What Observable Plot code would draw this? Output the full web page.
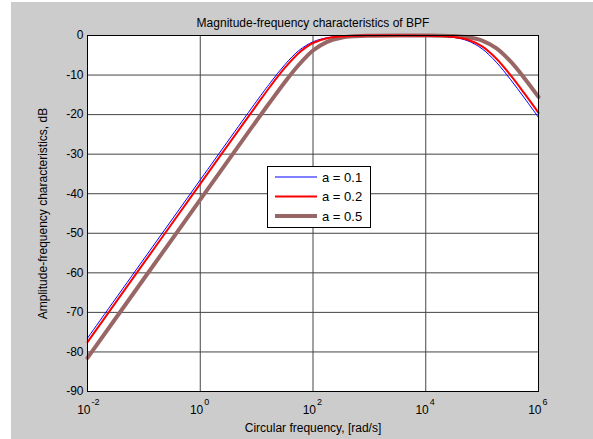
<!DOCTYPE html>
<html>
<head>
<meta charset="utf-8">
<script src="https://cdn.jsdelivr.net/npm/d3@7"></script>
<script src="https://cdn.jsdelivr.net/npm/@observablehq/plot@0.6"></script>
<style>
  html, body { margin: 0; padding: 0; background: #ffffff; }
  #wrap { position: relative; width: 593px; height: 439px; overflow: hidden; background: #ffffff; }
  #chart { position: absolute; left: 11px; top: 2px; }
  #legend { position: absolute; left: 267px; top: 166px; width: 102px; height: 60px;
            border: 1px solid #000; background: #fff; }
  #legend svg { display: block; }
</style>
</head>
<body>
<div id="wrap">
  <div id="chart"></div>
  <div id="legend"></div>
</div>
<script>
// ---- data ----
const frequencies = [0.01, 0.1, 1, 10, 17.8, 31.6, 56.2, 100, 178, 316, 562, 1000, 3162,
  10000, 17783, 31623, 56234, 100000, 177828, 316228, 562341, 1000000];
const gainA01 = [-76.5, -56.5, -36.5, -16.6, -11.8, -7.4, -3.8, -1.6, -0.57, -0.19, -0.06, -0.02, 0,
  -0.05, -0.16, -0.48, -1.37, -3.37, -6.73, -11.06, -15.8, -20.7];
const gainA02 = [-77.5, -57.5, -37.5, -17.6, -12.7, -8.2, -4.4, -1.9, -0.7, -0.24, -0.08, -0.02, 0,
  -0.04, -0.12, -0.37, -1.08, -2.77, -5.82, -9.96, -14.65, -19.55];
const gainA05 = [-81.5, -61.5, -41.5, -21.5, -16.6, -11.8, -7.4, -3.8, -1.6, -0.57, -0.19, -0.06, 0,
  -0.02, -0.05, -0.15, -0.45, -1.29, -3.21, -6.5, -10.78, -15.52];
const seriesNames = ["a = 0.1", "a = 0.2", "a = 0.5"];
const seriesColors = ["#0000ff", "#ff0000", "#996666"];
const seriesWidths = [1, 2, 4];
const xTicks = [0.01, 1, 100, 10000, 1000000];
const xTickExponents = ["-2", "0", "2", "4", "6"];
const yTicks = [0, -10, -20, -30, -40, -50, -60, -70, -80, -90];
const titleText = "Magnitude-frequency characteristics of BPF";
const xLabel = "Circular frequency, [rad/s]";
const yLabel = "Amplitude-frequency characteristics, dB";

const allGains = [gainA01, gainA02, gainA05];
const rows = (i) => frequencies.map((f, j) => ({f, g: allGains[i][j]}));
const drawOrder = [2, 0, 1];

const font = "'Liberation Sans', Arial, Helvetica, sans-serif";

const chart = Plot.plot({
  width: 582,
  height: 437,
  marginLeft: 76,
  marginRight: 55,
  marginTop: 33,
  marginBottom: 48,
  style: {background: "#cccccc", fontFamily: font, fontSize: "12px", color: "#000"},
  x: {type: "log", domain: [0.01, 1000000], axis: null},
  y: {domain: [-90, 0], axis: null},
  marks: [
    Plot.frame({fill: "#ffffff", stroke: "none"}),
    Plot.gridX(xTicks, {stroke: "#444", strokeOpacity: 1, strokeWidth: 1}),
    Plot.gridY(yTicks, {stroke: "#444", strokeOpacity: 1, strokeWidth: 1}),
    ...drawOrder.map(i => Plot.line(rows(i), {
      x: "f", y: "g", stroke: seriesColors[i], strokeWidth: seriesWidths[i], curve: "catmull-rom"
    })),
    Plot.frame({stroke: "#000", strokeWidth: 1}),
    Plot.axisY(yTicks, {tickSize: 0, tickPadding: 4, fontSize: 12, label: null, fill: "#000",
      tickFormat: d => String(d)}),
    Plot.text(xTicks, {x: d => d, text: () => "10", frameAnchor: "bottom", dy: 22, dx: 3,
      textAnchor: "end", lineAnchor: "bottom", fontSize: 12, fill: "#000"}),
    Plot.text(xTicks, {x: d => d, text: (d, i) => xTickExponents[i], frameAnchor: "bottom", dy: 13, dx: 4,
      textAnchor: "start", lineAnchor: "bottom", fontSize: 9, fill: "#000"}),
    Plot.text([titleText], {text: d => d, frameAnchor: "top", dy: -9, lineAnchor: "bottom", fontSize: 12, fill: "#000"}),
    Plot.text([xLabel], {text: d => d, frameAnchor: "bottom", dy: 40, lineAnchor: "bottom", fontSize: 12, fill: "#000"}),
    Plot.text([yLabel], {text: d => d, frameAnchor: "left", dx: -44, rotate: -90, textAnchor: "middle",
      lineAnchor: "middle", fontSize: 12, fill: "#000"})
  ]
});
document.getElementById("chart").appendChild(chart);

// legend
const leg = d3.select("#legend").append("svg").attr("width", 102).attr("height", 60);
seriesNames.forEach((name, i) => {
  const y = 10 + i * 19.5;
  leg.append("line").attr("x1", 7).attr("x2", 49).attr("y1", y).attr("y2", y)
    .attr("stroke", seriesColors[i]).attr("stroke-width", seriesWidths[i]);
  leg.append("text").attr("x", 54).attr("y", y + 4.5).text(name)
    .attr("font-family", font).attr("font-size", 13).attr("fill", "#000");
});
</script>
</body>
</html>
